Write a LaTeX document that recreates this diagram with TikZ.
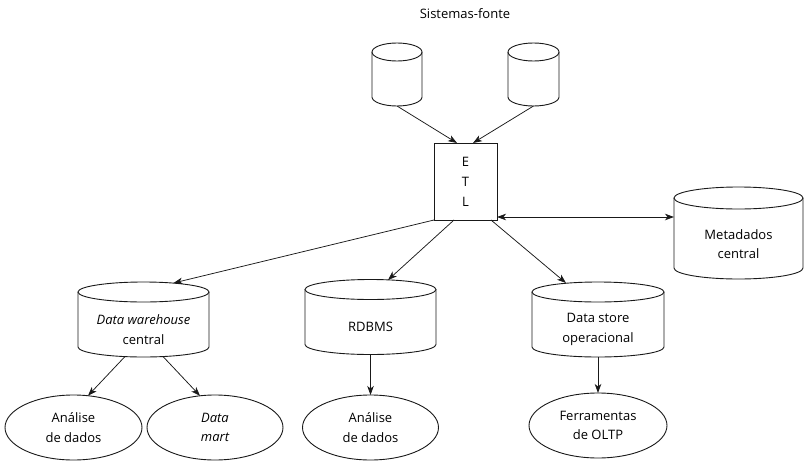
\documentclass[tikz,border=0pt]{standalone}
\usepackage{fontspec}
\setmainfont{Open Sans}
\usetikzlibrary{shapes.geometric,arrows.meta}
\newcommand\drawcyl[3]{%
  \draw[cylline] ([yshift=#3pt]#1.north) ellipse ({#2pt} and {#3pt});
  \draw[cylline] ([yshift=#3pt]#1.north west) -- ([yshift=#3pt]#1.south west)
     arc (180:360:{#2pt} and {#3pt}) -- ([yshift=#3pt]#1.north east);}
\begin{document}
\begin{tikzpicture}[x=1pt,y=-1pt,
  font=\fontsize{13}{19.5}\selectfont,
  cylline/.style={line width=0.9pt, draw=black!90},
  cylbody/.style={draw=none, inner sep=0pt, outer sep=0pt, align=center},
  oval/.style={ellipse, draw=black!90, line width=0.9pt, inner sep=0pt, outer sep=0pt, align=center},
  etlbox/.style={rectangle, draw=black!90, line width=0.9pt, inner sep=0pt, outer sep=0pt, align=center, font=\fontsize{13}{20}\selectfont},
  arr/.style={-{Stealth[length=9pt,width=6.5pt,inset=2.5pt]}, line width=0.75pt, draw=black!90},
  darr/.style={{Stealth[length=9pt,width=6.5pt,inset=2.5pt]}-{Stealth[length=9pt,width=6.5pt,inset=2.5pt]}, line width=0.75pt, draw=black!90}]
\useasboundingbox (0,0) rectangle (812,469);

\node (title) at (465,14) {Sistemas-fonte};

% source cylinders (top 43, r 9, bottom 106)
\node[cylbody, minimum width=50pt, minimum height=45pt] (src1) at (397,83.5) {};
\node[cylbody, minimum width=51pt, minimum height=45pt] (src2) at (533.5,83.5) {};
\drawcyl{src1}{25}{9}
\drawcyl{src2}{25.5}{9}

% ETL
\node[etlbox, minimum width=63pt, minimum height=77pt] (etl) at (465.5,181.5) {E\\T\\L};

% metadata
\node[cylbody, minimum width=129pt, minimum height=70pt] (meta) at (738.5,244) {Metadados\\central};
\drawcyl{meta}{64.5}{11}

% lower cylinders (top 282, r 10, bottom 357)
\node[cylbody, minimum width=131pt, minimum height=55pt] (dw) at (143.5,329.5) {\itshape Data warehouse\\central};
\node[cylbody, minimum width=131pt, minimum height=55pt] (rdbms) at (370.5,327) {RDBMS};
\node[cylbody, minimum width=132pt, minimum height=55pt] (dso) at (598,329.5) {Data store\\operacional};
\drawcyl{dw}{65.5}{10}
\drawcyl{rdbms}{65.5}{10}
\drawcyl{dso}{66}{10}

% ellipses
\node[oval, minimum width=137pt, minimum height=65pt] (ell1) at (73.5,427.5) {Análise\\de dados};
\node[oval, minimum width=136pt, minimum height=65pt] (ell2) at (215,427.5) {\itshape Data\\\itshape mart};
\node[oval, minimum width=136pt, minimum height=65pt] (ell3) at (370.5,427.5) {Análise\\de dados};
\node[oval, minimum width=138pt, minimum height=65pt] (ell4) at (598,425.5) {Ferramentas\\de OLTP};

% connectors
\draw[arr] (src1.south) -- ([xshift=-8.5pt]etl.north);
\draw[arr] (src2.south) -- ([xshift=7.5pt]etl.north);
\draw[arr] (etl.south west) -- ([xshift=30pt,yshift=19pt]dw.north);
\draw[arr] ([xshift=-11.5pt]etl.south) -- ([xshift=17.5pt,yshift=19.5pt]rdbms.north);
\draw[arr] ([xshift=25.5pt]etl.south) -- ([xshift=-32pt,yshift=19pt]dso.north);
\draw[darr] ([yshift=-35.5pt]etl.east) -- ([yshift=-35.5pt]etl.east -| meta.west);
\draw[arr] ([xshift=-18.5pt,yshift=0.5pt]dw.south) -- ([xshift=14.5pt,yshift=-0.7pt]ell1.north);
\draw[arr] ([xshift=19.5pt,yshift=0.5pt]dw.south) -- ([xshift=-15pt,yshift=-0.8pt]ell2.north);
\draw[arr] (rdbms.south) -- (ell3.north);
\draw[arr] (dso.south) -- (ell4.north);
\end{tikzpicture}
\end{document}
